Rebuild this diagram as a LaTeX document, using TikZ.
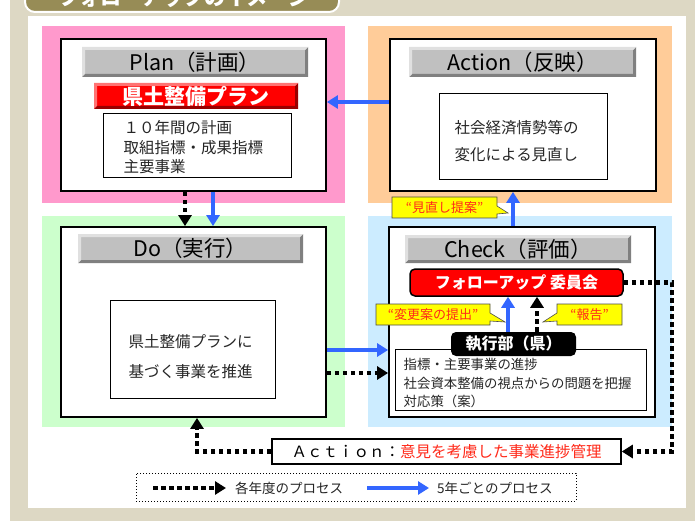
\documentclass[tikz,border=0pt]{standalone}
\usepackage{fontspec}
\setmainfont{Noto Sans CJK JP}
\usetikzlibrary{arrows.meta,calc,shapes.callouts}
\definecolor{beige}{HTML}{DDD8C4}
\definecolor{olive}{HTML}{978C56}
\definecolor{pinkbg}{HTML}{FF99CC}
\definecolor{orangebg}{HTML}{FFCC99}
\definecolor{greenbg}{HTML}{CCFFCC}
\definecolor{bluebg}{HTML}{CCECFF}
\definecolor{arrblue}{HTML}{3366FF}
\definecolor{hdrgray}{HTML}{C0C0C0}
\definecolor{txtred}{HTML}{FF2A1A}
\definecolor{callyellow}{HTML}{FFFF00}
\tikzset{
  region/.style={draw=none, inner sep=0pt},
  phasebox/.style={draw=black, line width=1.8pt, fill=white, inner sep=0pt},
  bevel/.style n args={2}{path picture={
     \fill[#1] (path picture bounding box.north east) -- (path picture bounding box.south east)
        -- (path picture bounding box.south west) -- ([shift={(3pt,3pt)}]path picture bounding box.south west)
        -- ([shift={(-3pt,3pt)}]path picture bounding box.south east) -- ([shift={(-3pt,-3pt)}]path picture bounding box.north east) -- cycle;
     \fill[#2] (path picture bounding box.north west) -- (path picture bounding box.north east)
        -- ([shift={(-3pt,-3pt)}]path picture bounding box.north east) -- ([shift={(3pt,-3pt)}]path picture bounding box.north west)
        -- ([shift={(3pt,3pt)}]path picture bounding box.south west) -- (path picture bounding box.south west) -- cycle;
  }},
  hdr/.style={fill=hdrgray, inner sep=0pt, bevel={black!50}{black!12}, font=\fontsize{21.5}{24}\selectfont},
  banner/.style={fill=red, inner sep=0pt, bevel={red!60!black}{red!55}, text=white, font=\fontsize{21}{24}\selectfont\bfseries},
  inbox/.style={draw=black, line width=1pt, fill=white, inner sep=0pt},
  intext/.style={anchor=west, align=left, inner sep=0pt, text=black!85},
  bluearr/.style={draw=arrblue, line width=4pt, -{Triangle[length=11pt,width=13pt]}},
  dotarr/.style={draw=black, line width=4.5pt, dash pattern=on 4.5pt off 3.5pt, -{Triangle[length=11pt,width=13pt]}},
  callbox/.style={rectangle callout, fill=callyellow, draw=black!70, line width=0.6pt, text=txtred,
     font=\fontsize{13}{15}\selectfont, inner sep=0pt, callout pointer width=8pt},
  roundbox/.style={rounded corners=5pt, inner sep=0pt, text=white, font=\fontsize{16}{18}\selectfont\bfseries}
}
\begin{document}
\begin{tikzpicture}[x=1pt,y=-1pt]
\useasboundingbox (0,0) rectangle (695,521);
% frame
\fill[white] (0,0) rectangle (695,521);
\fill[beige] (10,-5) rectangle (695,521);
\fill[white] (28,16) rectangle (686,508);
\draw[fill=olive, draw=white, line width=2pt, rounded corners=10pt] (25,-25) rectangle (339,12);
\node[text=white, font=\fontsize{21}{23}\selectfont\bfseries] (title) at (184,-2) {フォローアップのイメージ};
% regions
\node[region, fill=pinkbg, minimum width=303pt, minimum height=177pt] (pinkreg) at (193.5,114.5) {};
\node[region, fill=orangebg, minimum width=304pt, minimum height=177pt] (orangereg) at (520,114.5) {};
\node[region, fill=greenbg, minimum width=303pt, minimum height=211pt] (greenreg) at (193.5,321.5) {};
\node[region, fill=bluebg, minimum width=304pt, minimum height=211pt] (bluereg) at (520,321.5) {};
% phase boxes
\node[phasebox, minimum width=265pt, minimum height=152pt] (planbox) at (193.5,115) {};
\node[phasebox, minimum width=266pt, minimum height=152pt] (actionbox) at (523,115) {};
\node[phasebox, minimum width=265pt, minimum height=190pt] (dobox) at (193.5,322) {};
\node[phasebox, minimum width=266pt, minimum height=190pt] (checkbox) at (522,322) {};
% headers
\node[hdr, minimum width=226pt, minimum height=30pt] (planhdr) at (195,62) {Plan（計画）};
\node[hdr, minimum width=227pt, minimum height=30pt] (actionhdr) at (522.5,62) {Action（反映）};
\node[hdr, minimum width=225pt, minimum height=29pt] (dohdr) at (190.5,248.5) {Do（実行）};
\node[hdr, minimum width=226pt, minimum height=28pt] (checkhdr) at (518,249) {Check（評価）};
% plan
\node[banner, minimum width=204pt, minimum height=26pt] (planbanner) at (196,96) {県土整備プラン};
\node[inbox, minimum width=188pt, minimum height=64pt] (planin) at (197,146) {};
\node[intext, font=\fontsize{15.5}{19.5}\selectfont] (plantxt) at ([xshift=21pt,yshift=-1.5pt]planin.west) {１０年間の計画\\取組指標・成果指標\\主要事業};
% action
\node[inbox, minimum width=168pt, minimum height=86pt] (actionin) at (523,137) {};
\node[intext, font=\fontsize{15.5}{27}\selectfont] (actiontxt) at ([xshift=16pt,yshift=-4.5pt]actionin.west) {社会経済情勢等の\\変化による見直し};
% do
\node[inbox, minimum width=165pt, minimum height=98pt] (doin) at (192.5,349) {};
\node[intext, font=\fontsize{15.5}{30}\selectfont] (dotxt) at ([xshift=19pt,yshift=-8pt]doin.west) {県土整備プランに\\基づく事業を推進};
% check
\node[roundbox, fill=red, draw=black, line width=1.5pt, minimum width=213pt, minimum height=27pt] (committee) at (516.5,282.5) {フォローアップ 委員会};
\node[inbox, minimum width=251pt, minimum height=61pt] (checkin) at (520.5,379.5) {};
\node[intext, font=\fontsize{13.4}{18.5}\selectfont] (checktxt) at ([xshift=9pt,yshift=-4pt]checkin.west) {指標・主要事業の進捗\\社会資本整備の視点からの問題を把握\\対応策（案）};
\node[roundbox, fill=black, minimum width=125pt, minimum height=24pt] (shikkou) at (513.5,344) {執行部（県）};
% callouts
\node[callbox, minimum width=105pt, minimum height=21pt, callout absolute pointer={(508,213)}] (minaoshi) at (444.5,207.5) {“見直し提案”};
\node[callbox, minimum width=114pt, minimum height=21pt, callout absolute pointer={(505,322)}] (henkou) at (433,314.5) {“変更案の提出”};
\node[callbox, minimum width=65pt, minimum height=21pt, callout absolute pointer={(543,322)}] (houkoku) at (589.5,314.5) {“報告”};
% action bar
\node[draw=black, line width=1.5pt, fill=white, inner sep=0pt, minimum width=349pt, minimum height=25pt, font=\fontsize{15.5}{18}\selectfont] (actionbar) at (446.5,451.5) {Ａｃｔｉｏｎ：\textcolor{txtred}{意見を考慮した事業進捗管理}};
% connectors
\draw[bluearr] ([yshift=13pt]actionbox.west) -- ([yshift=13pt]actionbox.west -| planbox.east);
\draw[bluearr] ([xshift=19.5pt]planbox.south) -- ([xshift=19.5pt]dobox.north);
\draw[dotarr] ([xshift=-8.5pt]planbox.south) -- ([xshift=-8.5pt]dobox.north);
\draw[bluearr] ([xshift=-9pt]checkbox.north) -- ([xshift=-9pt]checkbox.north |- actionbox.south);
\draw[bluearr] ([yshift=-28pt]dobox.east) -- ([yshift=-28pt]dobox.east -| checkbox.west);
\draw[dotarr] ([yshift=-51pt]dobox.east) -- ([yshift=-51pt]dobox.east -| checkbox.west);
\draw[bluearr] ([xshift=-5.5pt]shikkou.north) -- ([xshift=-5.5pt]shikkou.north |- committee.south);
\draw[dotarr] ([xshift=23.5pt]shikkou.north) -- ([xshift=23.5pt]shikkou.north |- committee.south);
\coordinate (rcorner) at (672,451.5);
\coordinate (lcorner) at (197,451.5);
\draw[dotarr] (committee.east) -| (rcorner) -- (actionbar.east);
\draw[dotarr] (actionbar.west) -- (lcorner) -- (lcorner |- dobox.south);
% legend
\node[draw=black, line width=1pt, dotted, inner sep=0pt, minimum width=440pt, minimum height=28pt] (legend) at (356,487) {};
\coordinate (lg1) at (153,488);
\coordinate (lg2) at (226,488);
\coordinate (lb1) at (367,488);
\coordinate (lb2) at (429,488);
\draw[dotarr] (lg1) -- (lg2);
\draw[bluearr] (lb1) -- (lb2);
\node[anchor=west, inner sep=0pt, text=black!85, font=\fontsize{13.5}{15}\selectfont] (lgtxt1) at (235,488) {各年度のプロセス};
\node[anchor=west, inner sep=0pt, text=black!85, font=\fontsize{13.5}{15}\selectfont] (lgtxt2) at (437,488) {5年ごとのプロセス};
\end{tikzpicture}
\end{document}
